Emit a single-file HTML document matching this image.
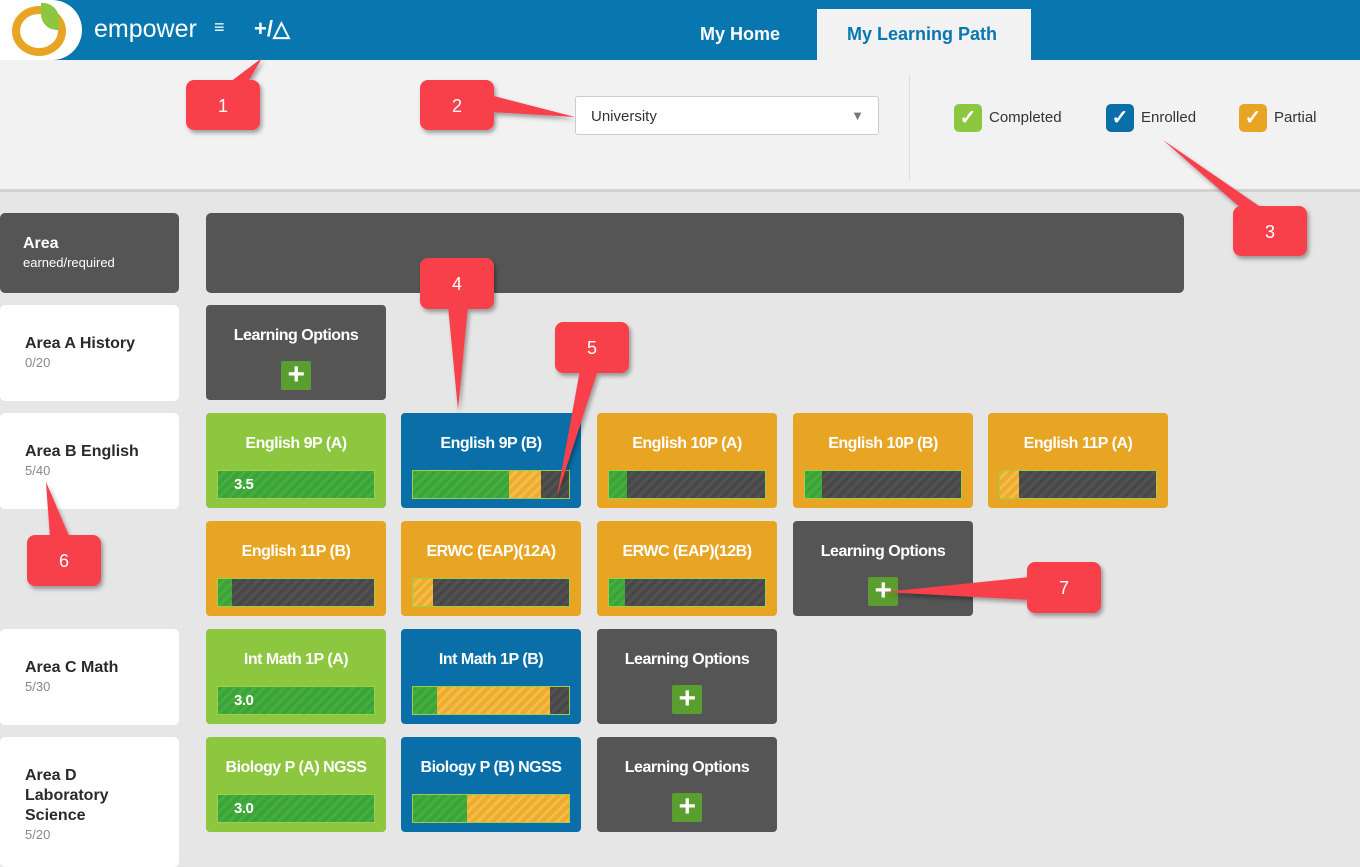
<!DOCTYPE html>
<html><head><meta charset="utf-8"><style>
*{margin:0;padding:0;box-sizing:border-box}
body{width:1360px;height:861px;overflow:hidden;background:#e6e6e6;font-family:"Liberation Sans",sans-serif;position:relative}
.a{position:absolute}
.hdr{left:0;top:0;width:1360px;height:60px;background:#0877b0}
.tb{left:0;top:60px;width:1360px;height:132px;background:#f2f2f2;border-bottom:3px solid #d2d2d2}
.card{position:absolute;background:#fff;border-radius:5px;width:179px;padding-left:25px;color:#333}
.card b{display:block;font-size:16px;font-weight:bold;line-height:20px;color:#2a2a2a}
.card span{font-size:13px;color:#888}
.t{position:absolute;width:180px;height:95px;border-radius:4px;color:#fff;font-weight:bold;font-size:16px;text-align:center;letter-spacing:-0.5px}
.t .n{position:absolute;left:0;right:0;top:22px}
.g{background:#8dc63f}.b{background:#0a6fa8}.o{background:#e8a524}.d{background:#555}
.bar{position:absolute;left:11px;top:57px;width:158px;height:29px;border:1px solid #9ad04a;display:flex;overflow:hidden;background:#4a4a4a}
.bar i{display:block;height:100%}
.sg{background:repeating-linear-gradient(135deg,#3ca338 0 4px,#46ad3f 4px 7px)}
.so{background:repeating-linear-gradient(135deg,#eeac2f 0 4px,#f4bc48 4px 7px)}
.sd{flex:1;background:repeating-linear-gradient(135deg,#484848 0 4px,#525252 4px 7px)}
.bar em{position:absolute;left:16px;top:5px;font-style:normal;font-size:15px}
.p{position:absolute;left:75px;top:56px;width:30px;height:29px;background:#5a9e2f;border-radius:2px;color:#fff;font-size:30px;line-height:28px;text-align:center;font-weight:bold}
.chk{position:absolute;width:28px;height:28px;border-radius:5px;color:#fff;font-size:20px;text-align:center;line-height:28px;font-weight:bold}
.lg{position:absolute;font-size:15px;color:#333;top:109px}
</style></head><body>
<div class="a hdr"></div>
<div class="a" style="left:0;top:0;width:82px;height:60px;background:#fff;border-radius:0 30px 30px 0"></div>
<div class="a" style="left:12px;top:6px;width:54px;height:50px;border:8px solid #e8a524;border-radius:50%"></div>
<div class="a" style="left:41px;top:3px;width:18px;height:27px;background:#8dc63f;border-radius:0 16px 0 16px"></div>
<div class="a" style="left:94px;top:15px;color:#fff;font-size:25px">empower</div>
<div class="a" style="left:214px;top:17px;color:#fff;font-size:18px">≡</div>
<div class="a" style="left:254px;top:16px;color:#fff;font-size:22px;font-weight:bold">+/△</div>
<div class="a" style="left:700px;top:24px;color:#fff;font-size:18px;font-weight:bold">My Home</div>
<div class="a" style="left:817px;top:9px;width:214px;height:52px;background:#f2f2f2"></div>
<div class="a" style="left:847px;top:24px;color:#0877b0;font-size:18px;font-weight:bold">My Learning Path</div>
<div class="a tb"></div>
<div class="a" style="left:909px;top:75px;width:1px;height:105px;background:#ddd"></div>
<div class="a" style="left:575px;top:96px;width:304px;height:39px;background:#fff;border:1px solid #ccc;border-radius:3px;font-size:15px;color:#333;padding:11px 0 0 15px">University<span style="position:absolute;right:14px;top:11px;color:#777;font-size:13px">▼</span></div>
<div class="chk" style="left:954px;top:104px;background:#8dc63f">✓</div><div class="lg" style="left:989px">Completed</div>
<div class="chk" style="left:1106px;top:104px;background:#0a6fa8">✓</div><div class="lg" style="left:1141px">Enrolled</div>
<div class="chk" style="left:1239px;top:104px;background:#e8a524">✓</div><div class="lg" style="left:1274px">Partial</div>

<div class="card" style="top:213px;height:80px;background:#555;padding-left:23px;padding-top:21px;color:#fff"><b style="color:#fff">Area</b><span style="color:#fff">earned/required</span></div>
<div class="a" style="left:206px;top:213px;width:978px;height:80px;background:#555;border-radius:5px"></div>
<div class="card" style="top:305px;height:96px;padding-top:29px"><b>Area A History</b><span>0/20</span></div>
<div class="card" style="top:413px;height:96px;padding-top:29px"><b>Area B English</b><span>5/40</span></div>
<div class="card" style="top:629px;height:96px;padding-top:29px"><b>Area C Math</b><span>5/30</span></div>
<div class="card" style="top:737px;height:130px;padding-top:29px"><b>Area D<br>Laboratory<br>Science</b><span>5/20</span></div>

<div class="t d" style="left:206px;top:305px"><div class="n">Learning Options</div><div class="p">+</div></div>

<div class="t g" style="left:206px;top:413px"><div class="n">English 9P (A)</div><div class="bar"><i class="sg" style="flex:1"></i><em>3.5</em></div></div>
<div class="t b" style="left:401px;top:413px"><div class="n">English 9P (B)</div><div class="bar"><i class="sg" style="width:96px"></i><i class="so" style="width:32px"></i><i class="sd"></i></div></div>
<div class="t o" style="left:597px;top:413px"><div class="n">English 10P (A)</div><div class="bar"><i class="sg" style="width:18px"></i><i class="sd"></i></div></div>
<div class="t o" style="left:793px;top:413px"><div class="n">English 10P (B)</div><div class="bar"><i class="sg" style="width:17px"></i><i class="sd"></i></div></div>
<div class="t o" style="left:988px;top:413px"><div class="n">English 11P (A)</div><div class="bar"><i class="so" style="width:19px"></i><i class="sd"></i></div></div>

<div class="t o" style="left:206px;top:521px"><div class="n">English 11P (B)</div><div class="bar"><i class="sg" style="width:14px"></i><i class="sd"></i></div></div>
<div class="t o" style="left:401px;top:521px"><div class="n">ERWC (EAP)(12A)</div><div class="bar"><i class="so" style="width:20px"></i><i class="sd"></i></div></div>
<div class="t o" style="left:597px;top:521px"><div class="n">ERWC (EAP)(12B)</div><div class="bar"><i class="sg" style="width:16px"></i><i class="sd"></i></div></div>
<div class="t d" style="left:793px;top:521px"><div class="n">Learning Options</div><div class="p">+</div></div>

<div class="t g" style="left:206px;top:629px"><div class="n">Int Math 1P (A)</div><div class="bar"><i class="sg" style="flex:1"></i><em>3.0</em></div></div>
<div class="t b" style="left:401px;top:629px"><div class="n">Int Math 1P (B)</div><div class="bar"><i class="sg" style="width:24px"></i><i class="so" style="width:113px"></i><i class="sd"></i></div></div>
<div class="t d" style="left:597px;top:629px"><div class="n">Learning Options</div><div class="p">+</div></div>

<div class="t g" style="left:206px;top:737px"><div class="n">Biology P (A) NGSS</div><div class="bar"><i class="sg" style="flex:1"></i><em>3.0</em></div></div>
<div class="t b" style="left:401px;top:737px"><div class="n">Biology P (B) NGSS</div><div class="bar"><i class="sg" style="width:54px"></i><i class="so" style="flex:1"></i></div></div>
<div class="t d" style="left:597px;top:737px"><div class="n">Learning Options</div><div class="p">+</div></div>

<svg class="a" style="left:0;top:0" width="1360" height="861">
<defs><filter id="s" x="-20%" y="-20%" width="150%" height="150%"><feDropShadow dx="2" dy="3" stdDeviation="2" flood-opacity="0.35"/></filter></defs>
<g fill="#f7414a" filter="url(#s)" font-family="Liberation Sans" font-size="18">
<polygon points="230,82 248,82 262,58"/><rect x="186" y="80" width="74" height="50" rx="8"/>
<polygon points="490,95 490,112 575,117"/><rect x="420" y="80" width="74" height="50" rx="8"/>
<polygon points="1243,210 1262,208 1163,140"/><rect x="1233" y="206" width="74" height="50" rx="8"/>
<polygon points="448,306 468,306 458,410"/><rect x="420" y="258" width="74" height="51" rx="8"/>
<polygon points="580,370 598,370 557,496"/><rect x="555" y="322" width="74" height="51" rx="8"/>
<polygon points="50,538 70,538 46,482"/><rect x="27" y="535" width="74" height="51" rx="8"/>
<polygon points="1030,577 1030,600 884,592"/><rect x="1027" y="562" width="74" height="51" rx="8"/>
</g>
<g fill="#fff" font-family="Liberation Sans" font-size="18" text-anchor="middle">
<text x="223" y="112">1</text><text x="457" y="112">2</text><text x="1270" y="238">3</text><text x="457" y="290">4</text><text x="592" y="354">5</text><text x="64" y="567">6</text><text x="1064" y="594">7</text>
</g>
</svg>
</body></html>
